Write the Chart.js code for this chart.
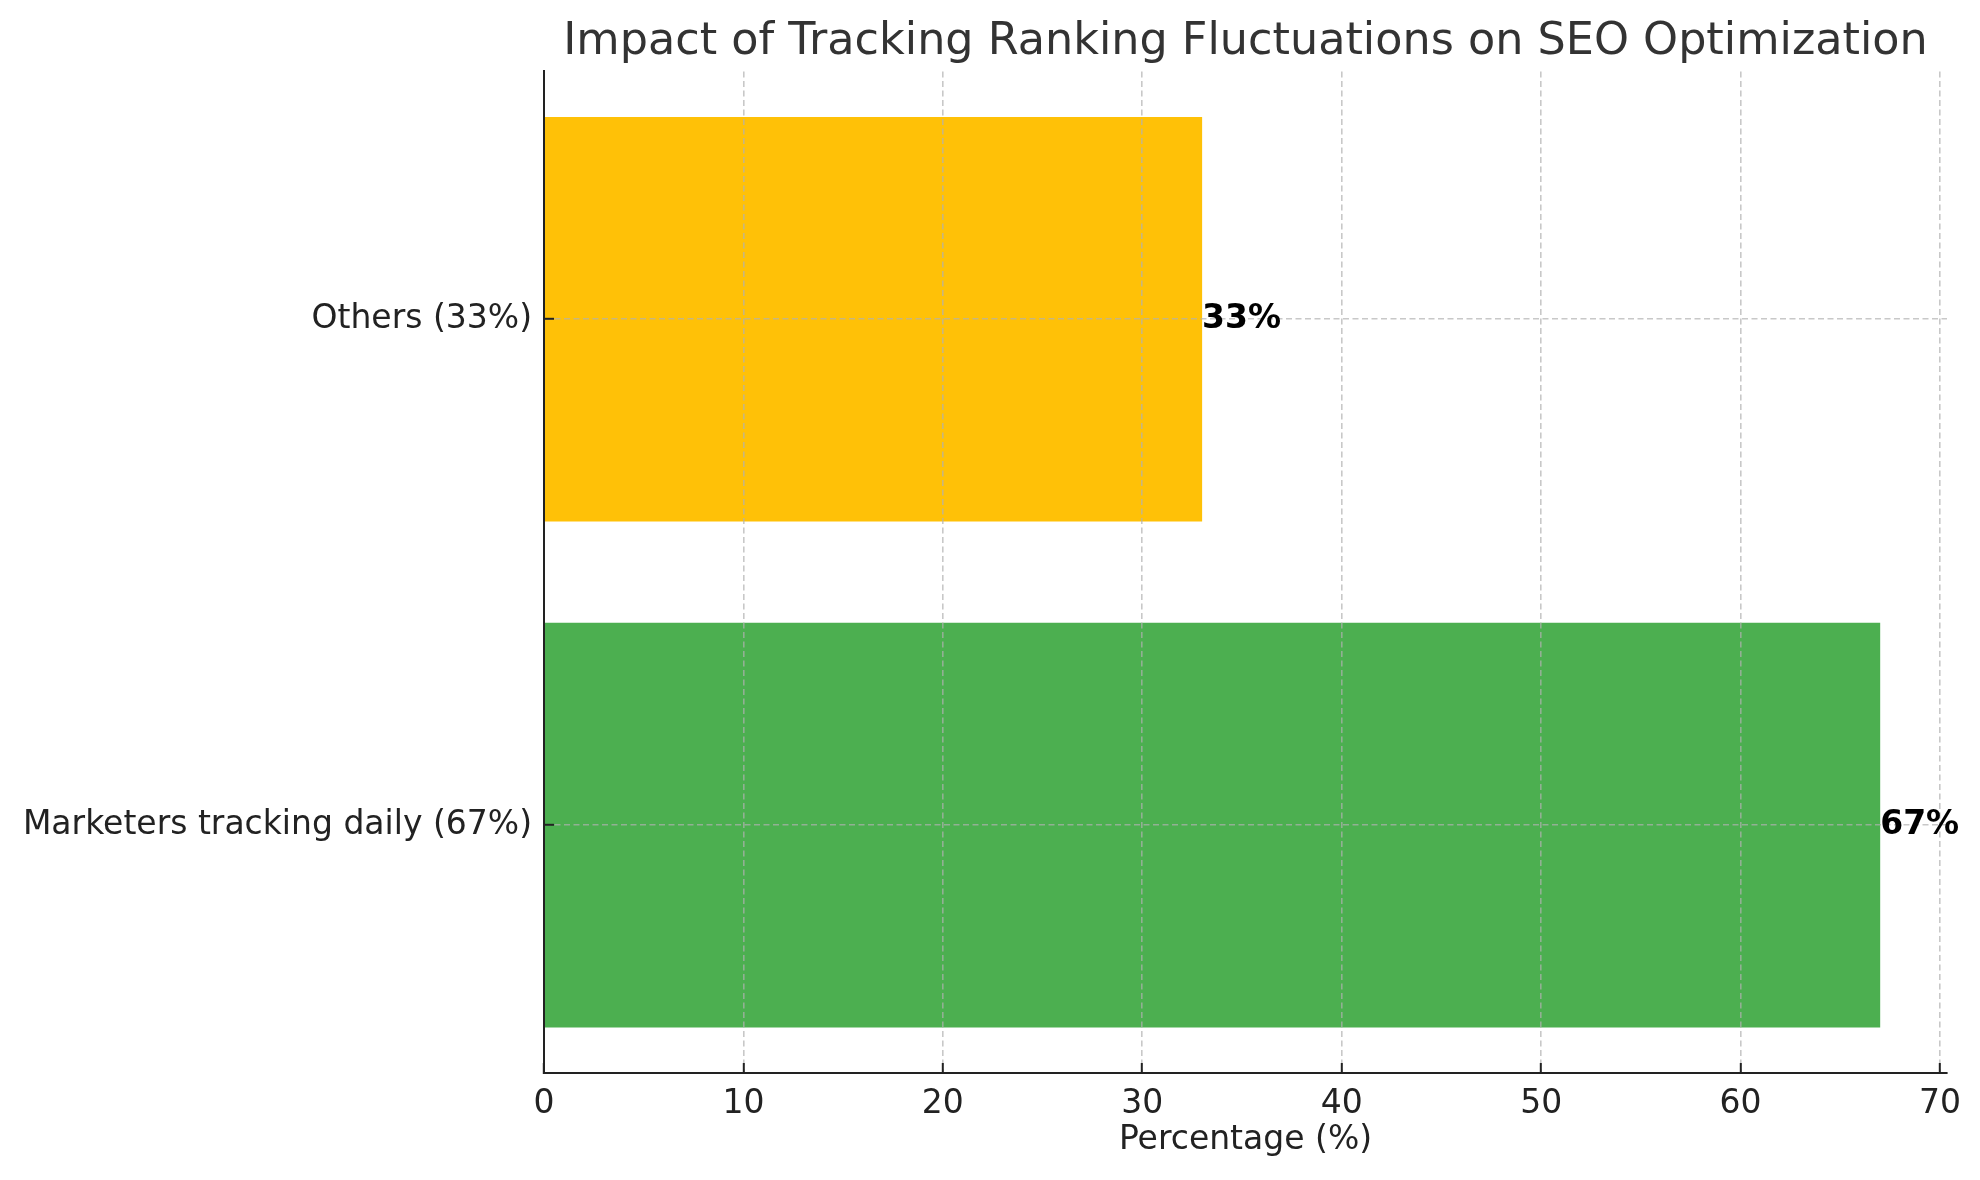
<!DOCTYPE html>
<html>
<head>
<meta charset="utf-8">
<script src="https://cdn.jsdelivr.net/npm/chart.js@4/dist/chart.umd.min.js"></script>
<style>
  html, body { margin: 0; padding: 0; background: #fff; }
  #wrap { width: 1980px; height: 1180px; }
</style>
</head>
<body>
<div id="wrap"><canvas id="c" width="1980" height="1180"></canvas></div>
<script>
const categories = ['Marketers tracking daily (67%)', 'Others (33%)'];
const values = [67, 33];
const barColors = ['#4CAF50', '#FFC107'];
const xTicks = [0, 10, 20, 30, 40, 50, 60, 70];
const xMax = 70.35;
const titleText = 'Impact of Tracking Ranking Fluctuations on SEO Optimization';
const xTitle = 'Percentage (%)';

const FONT = "'DejaVu Sans', sans-serif";
const gridColor = 'rgba(176,176,176,0.7)';

const valueLabels = {
  id: 'valueLabels',
  afterDraw(chart) {
    const ctx = chart.ctx;
    const meta = chart.getDatasetMeta(0);
    ctx.save();
    ctx.font = 'bold 33px ' + FONT;
    ctx.fillStyle = '#000';
    ctx.textAlign = 'left';
    ctx.textBaseline = 'middle';
    meta.data.forEach((bar, i) => {
      ctx.fillText(values[i] + '%', bar.x, bar.y);
    });
    ctx.restore();
  }
};

new Chart(document.getElementById('c'), {
  type: 'bar',
  data: {
    datasets: [{
      data: values.map((v, i) => ({ x: v, y: i })),
      backgroundColor: barColors,
      borderWidth: 0,
      barPercentage: 0.8,
      categoryPercentage: 1.0
    }]
  },
  options: {
    indexAxis: 'y',
    responsive: false,
    animation: false,
    devicePixelRatio: 1,
    layout: { padding: { left: 0, right: 33, top: 0, bottom: 0 } },
    plugins: {
      legend: { display: false },
      tooltip: { enabled: false },
      title: {
        display: true,
        fullSize: false,
        text: titleText,
        color: '#333',
        font: { family: FONT, size: 44.5, weight: 'normal' },
        padding: { top: 16, bottom: 2 }
      }
    },
    scales: {
      x: {
        type: 'linear',
        min: 0,
        max: xMax,
        afterBuildTicks(scale) {
          scale.ticks = xTicks.map(v => ({ value: v }));
        },
        afterFit(scale) {
          scale.height = 107;
          scale.paddingLeft = 0;
          scale.paddingRight = 0;
        },
        ticks: {
          color: '#222',
          font: { family: FONT, size: 33 },
          padding: 22,
          maxRotation: 0,
          callback: v => String(v)
        },
        grid: {
          z: 1,
          color: gridColor,
          lineWidth: 1.6,
          drawTicks: true,
          tickLength: -10,
          tickColor: '#222',
          tickWidth: 2,
          tickBorderDash: []
        },
        border: { display: true, color: '#222', width: 2, dash: [6, 3.5], z: 2 },
        title: {
          display: true,
          text: xTitle,
          color: '#222',
          font: { family: FONT, size: 33 },
          padding: { top: 0, bottom: 20 }
        }
      },
      y: {
        type: 'linear',
        min: -0.49,
        max: 1.49,
        offset: false,
        afterBuildTicks(scale) {
          scale.ticks = categories.map((c, i) => ({ value: i }));
        },
        afterFit(scale) {
          scale.width = 544;
          scale.paddingTop = 0;
          scale.paddingBottom = 0;
        },
        ticks: {
          color: '#222',
          font: { family: FONT, size: 33 },
          padding: 22,
          callback: v => categories[v]
        },
        grid: {
          z: 1,
          offset: false,
          color: gridColor,
          lineWidth: 1.6,
          drawTicks: true,
          tickLength: -10,
          tickColor: '#222',
          tickWidth: 2,
          tickBorderDash: []
        },
        border: { display: true, color: '#222', width: 2, dash: [6, 3.5], z: 2 }
      }
    }
  },
  plugins: [valueLabels]
});
</script>
</body>
</html>
